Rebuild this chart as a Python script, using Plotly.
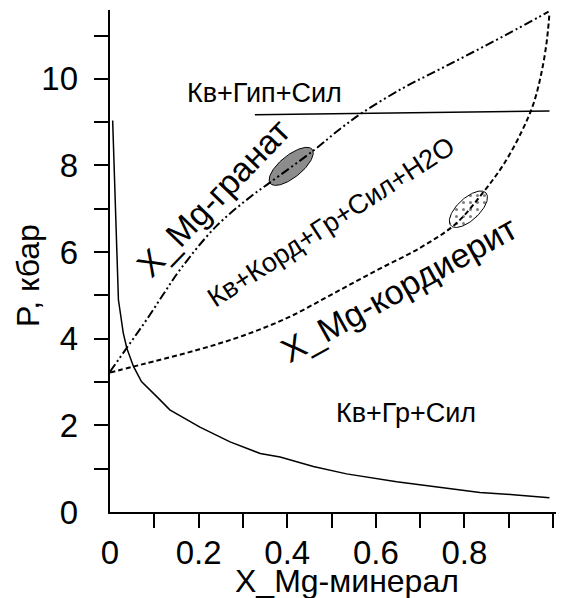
import numpy as np
import plotly.graph_objects as go

# ---------------- data ----------------
# solid boundary curve (low-pressure hyperbola-like line)
solid_x = [0.006, 0.011, 0.016, 0.019, 0.030, 0.038, 0.053, 0.071, 0.109, 0.135,
           0.203, 0.271, 0.339, 0.384, 0.459, 0.534, 0.647, 0.760, 0.835, 0.910, 0.992]
solid_y = [9.04, 7.44, 5.90, 4.90, 4.13, 3.78, 3.36, 3.01, 2.63, 2.36,
           1.96, 1.62, 1.35, 1.27, 1.05, 0.88, 0.70, 0.55, 0.45, 0.40, 0.33]

# X_Mg garnet (dash-dot-dot)
grt_x = [0.0, 0.04, 0.08, 0.12, 0.16, 0.24, 0.32, 0.36, 0.46, 0.52, 0.57, 0.66,
         0.74, 0.82, 0.90, 0.99]
grt_y = [3.24, 3.82, 4.40, 5.02, 5.62, 6.60, 7.30, 7.60, 8.35, 8.85, 9.22, 9.78,
         10.20, 10.62, 11.05, 11.55]

# X_Mg cordierite (dashed)
crd_x = [0.0, 0.05, 0.10, 0.20, 0.30, 0.40, 0.50, 0.60, 0.70, 0.78, 0.84, 0.89,
         0.93, 0.955, 0.972, 0.985, 0.992]
crd_y = [3.22, 3.35, 3.48, 3.75, 4.07, 4.48, 5.02, 5.57, 6.10, 6.65, 7.35, 8.05,
         8.80, 9.40, 10.05, 10.80, 11.52]

# horizontal reaction line Кв+Гип+Сил
hline_x = [0.327, 0.992]
hline_y = [9.17, 9.26]

# measured compositions (ellipse centres)
grt_cx, grt_cy = 0.409, 7.98
crd_cx, crd_cy = 0.809, 6.99

x_ticks = [0.1, 0.2, 0.3, 0.4, 0.5, 0.6, 0.7, 0.8, 0.9, 1.0]
x_labels = [0, 0.2, 0.4, 0.6, 0.8]
y_ticks = [1, 2, 3, 4, 5, 6, 7, 8, 9, 10, 11]
y_labels = [0, 2, 4, 6, 8, 10]

# ---------------- layout geometry ----------------
OFF = 8                      # default page margin of the html body
W, H = 564 - OFF, 598 - OFF
ML, MR, MT, MB = 110 - OFF, 3, 10 - OFF, 86
XR = [0, 1.018]
YR = [0, 11.59]
plot_w = W - ML - MR
plot_h = H - MT - MB
sx = plot_w / (XR[1] - XR[0])
sy = plot_h / (YR[1] - YR[0])

FONT = "Liberation Sans, Arial, sans-serif"


def paper_x(px):
    return (px - OFF - ML) / plot_w


def paper_y(py):
    return (H - MB - (py - OFF)) / plot_h


def ellipse(cx, cy, a_px, b_px, ang_deg, n=120):
    t = np.linspace(0, 2 * np.pi, n)
    th = np.deg2rad(ang_deg)
    px = a_px * np.cos(t) * np.cos(th) - b_px * np.sin(t) * np.sin(th)
    py = a_px * np.cos(t) * np.sin(th) + b_px * np.sin(t) * np.cos(th)
    return cx + px / sx, cy + py / sy


fig = go.Figure()

ex, ey = ellipse(grt_cx, grt_cy, 27, 11, 39)
fig.add_trace(go.Scatter(x=ex, y=ey, mode="lines", fill="toself",
                         fillcolor="#8c8c8c", line=dict(color="black", width=1),
                         hoverinfo="skip", showlegend=False))
ex, ey = ellipse(crd_cx, crd_cy, 24, 11, 43)
fig.add_trace(go.Scatter(x=ex, y=ey, mode="lines", fill="toself",
                         fillcolor="white",
                         fillpattern=dict(shape=".", fgcolor="black", bgcolor="white",
                                          size=7, solidity=0.15),
                         line=dict(color="black", width=1),
                         hoverinfo="skip", showlegend=False))

fig.add_trace(go.Scatter(x=solid_x, y=solid_y, mode="lines",
                         line=dict(color="black", width=1.5), showlegend=False))
fig.add_trace(go.Scatter(x=hline_x, y=hline_y, mode="lines",
                         line=dict(color="black", width=1.5), showlegend=False))
fig.add_trace(go.Scatter(x=grt_x, y=grt_y, mode="lines", line_shape="spline",
                         line=dict(color="black", width=2,
                                   dash="9px,3px,2px,3px,2px,3px"),
                         showlegend=False))
fig.add_trace(go.Scatter(x=crd_x, y=crd_y, mode="lines", line_shape="spline",
                         line=dict(color="black", width=2, dash="5px,3px"),
                         showlegend=False))

ann = []
def lab(text, x, y, size, angle=0, xref="x", yref="y"):
    ann.append(dict(text=text, x=x, y=y, xref=xref, yref=yref, showarrow=False,
                    textangle=angle, xanchor="center", yanchor="middle",
                    font=dict(family=FONT, size=size, color="black")))

lab("Кв+Гип+Сил", 0.348, 9.68, 27)
lab("Кв+Гр+Сил", 0.667, 2.29, 27)
lab("X_Mg-гранат", 0.2325, 7.25, 34, -46)
lab("Кв+Корд+Гр+Сил+H2O", 0.499, 6.70, 27, -33)
lab("X_Mg-кордиерит", 0.652, 5.15, 34, -29)
lab("X_Mg-минерал", paper_x(347), paper_y(581), 32, 0, "paper", "paper")
lab("P, кбар", paper_x(28), paper_y(276), 32, -90, "paper", "paper")

axis_common = dict(showgrid=False, zeroline=False, color="black", automargin=False)
fig.update_layout(
    width=W, height=H,
    margin=dict(l=ML, r=MR, t=MT, b=MB, autoexpand=False),
    plot_bgcolor="white", paper_bgcolor="white",
    font=dict(family=FONT, color="black"),
    showlegend=False,
    annotations=ann,
    xaxis=dict(range=XR, showline=True, linewidth=2, linecolor="black",
               ticks="outside", ticklen=14, tickwidth=2, tickcolor="black",
               tickvals=x_ticks, showticklabels=False, **axis_common),
    xaxis2=dict(range=XR, overlaying="x", side="bottom", anchor="y",
                tickvals=x_labels, ticks="", showline=False,
                tickfont=dict(size=33, family=FONT), ticklabelstandoff=18,
                **axis_common),
    yaxis=dict(range=YR, showline=True, linewidth=2, linecolor="black",
               ticks="outside", ticklen=14, tickwidth=2, tickcolor="black",
               tickvals=y_ticks, showticklabels=False, **axis_common),
    yaxis2=dict(range=YR, overlaying="y", side="left", anchor="x",
                tickvals=y_labels, ticks="", showline=False,
                tickfont=dict(size=33, family=FONT), ticklabelstandoff=31,
                **axis_common),
)
# invisible trace that activates the label axes
fig.add_trace(go.Scatter(x=[0], y=[0], xaxis="x2", yaxis="y2", mode="markers",
                         marker=dict(opacity=0), hoverinfo="skip", showlegend=False))

fig.write_html("out.html")
